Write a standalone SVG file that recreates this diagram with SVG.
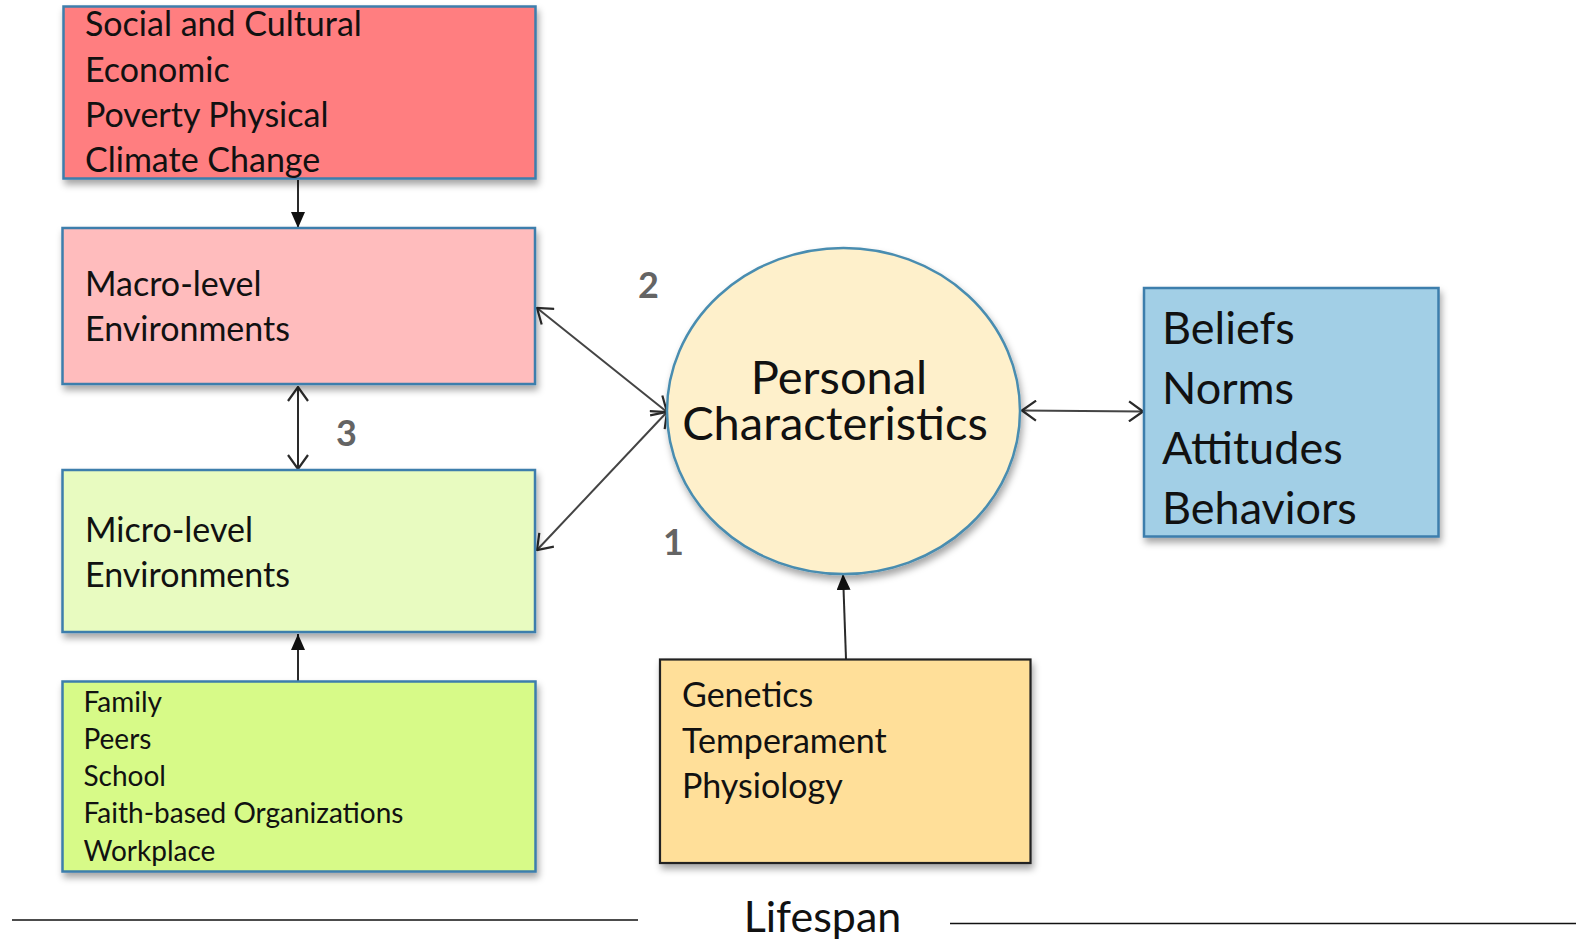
<svg xmlns="http://www.w3.org/2000/svg" width="1580" height="941" viewBox="0 0 1580 941">
<style>
  text { font-family: "Lato", "Open Sans", "Liberation Sans", sans-serif; fill: #111; }
  .box { stroke: #3d7eac; stroke-width: 2.5; filter: url(#shadow); }
  .t34 { font-size: 34px; }
  .t28 { font-size: 28px; }
  .t45 { font-size: 45px; }
  .t47 { font-size: 47px; }
  .num { font-size: 36px; font-weight: bold; fill: #646464; }
  .conn { stroke: #2a2a2a; stroke-width: 2; fill: none; }
  .diag { stroke: #444; stroke-width: 2; fill: none; }
  .rule { stroke: #111; stroke-width: 1.6; }
</style>
<defs>
  <filter id="shadow" x="-10%" y="-10%" width="120%" height="130%">
    <feDropShadow dx="2" dy="5" stdDeviation="3.5" flood-color="#000" flood-opacity="0.35"/>
  </filter>
  <marker id="open" viewBox="0 0 16 22" refX="15" refY="11" markerWidth="16" markerHeight="22" markerUnits="userSpaceOnUse" orient="auto-start-reverse">
    <path d="M1,1 L15,11 L1,21" fill="none" stroke="#2a2a2a" stroke-width="2.2"/>
  </marker>
  <marker id="fill" viewBox="0 0 16 14" refX="16" refY="7" markerWidth="16" markerHeight="14" markerUnits="userSpaceOnUse" orient="auto">
    <path d="M0,0 L16,7 L0,14 z" fill="#111"/>
  </marker>
</defs>
<rect width="1580" height="941" fill="#fff"/>

<g id="connectors">
  <line class="conn" x1="298" y1="180" x2="298" y2="228" marker-end="url(#fill)"/>
  <line class="conn" x1="298" y1="387" x2="298" y2="469" marker-start="url(#open)" marker-end="url(#open)"/>
  <line class="conn" x1="298" y1="681" x2="298" y2="634" marker-end="url(#fill)"/>
  <line class="diag" x1="537" y1="308" x2="667" y2="412" marker-start="url(#open)" marker-end="url(#open)"/>
  <line class="diag" x1="537" y1="550" x2="667" y2="412" marker-start="url(#open)" marker-end="url(#open)"/>
  <line class="diag" x1="1022" y1="410.5" x2="1143" y2="411.5" marker-start="url(#open)" marker-end="url(#open)"/>
  <line class="conn" x1="846" y1="659" x2="843" y2="574" marker-end="url(#fill)"/>
</g>

<g id="societal">
  <rect class="box" x="63.5" y="6.5" width="472" height="172" fill="#ff7e80"/>
  <text class="t34" x="85" y="36">Social and Cultural</text>
  <text class="t34" x="85" y="81.5">Economic</text>
  <text class="t34" x="85" y="127">Poverty Physical</text>
  <text class="t34" x="85" y="172">Climate Change</text>
</g>

<g id="macro">
  <rect class="box" x="62.5" y="228" width="472.5" height="156" fill="#ffbcbd"/>
  <text class="t34" x="85" y="296">Macro-level</text>
  <text class="t34" x="85" y="341">Environments</text>
</g>

<g id="micro">
  <rect class="box" x="62.5" y="470" width="472.5" height="162" fill="#e8fbc0"/>
  <text class="t34" x="85" y="541.5">Micro-level</text>
  <text class="t34" x="85" y="586.5">Environments</text>
</g>

<g id="microlist">
  <rect class="box" x="62.5" y="681.5" width="473" height="190" fill="#d7fa88"/>
  <text class="t28" x="83.5" y="711.5">Family</text>
  <text class="t28" x="83.5" y="749">Peers</text>
  <text class="t28" x="83.5" y="786">School</text>
  <text class="t28" x="83.5" y="823">Faith-based Organizations</text>
  <text class="t28" x="83.5" y="860.5">Workplace</text>
</g>

<g id="personal">
  <ellipse cx="843.5" cy="411" rx="176.5" ry="163" fill="#fef0cb" stroke="#4a8db0" stroke-width="2.5" filter="url(#shadow)"/>
  <text class="t47" text-anchor="middle"><tspan x="839" y="394">Personal</tspan><tspan x="835" y="440">Characteristics</tspan></text>
</g>

<g id="outcomes">
  <rect class="box" x="1144" y="288" width="294.5" height="248.5" fill="#a2cfe6"/>
  <text class="t45" x="1162" y="344">Beliefs</text>
  <text class="t45" x="1162" y="404">Norms</text>
  <text class="t45" x="1162" y="464">Attitudes</text>
  <text class="t45" x="1162" y="524">Behaviors</text>
</g>

<g id="biology">
  <rect x="660" y="659.5" width="370.5" height="203.5" fill="#ffdf99" stroke="#222" stroke-width="2.2" filter="url(#shadow)"/>
  <text class="t34" x="682" y="706.5">Genetics</text>
  <text class="t34" x="682" y="752.5">Temperament</text>
  <text class="t34" x="682" y="797.5">Physiology</text>
</g>

<g id="labels">
  <text class="num" x="648.5" y="298" text-anchor="middle">2</text>
  <text class="num" x="346.5" y="446" text-anchor="middle">3</text>
  <text class="num" x="673.5" y="555" text-anchor="middle">1</text>
</g>

<g id="lifespan">
  <line class="rule" x1="12" y1="920" x2="638" y2="920"/>
  <line class="rule" x1="950" y1="923.5" x2="1576" y2="923.5"/>
  <text x="822.5" y="931.5" text-anchor="middle" style="font-size:43px">Lifespan</text>
</g>
</svg>
